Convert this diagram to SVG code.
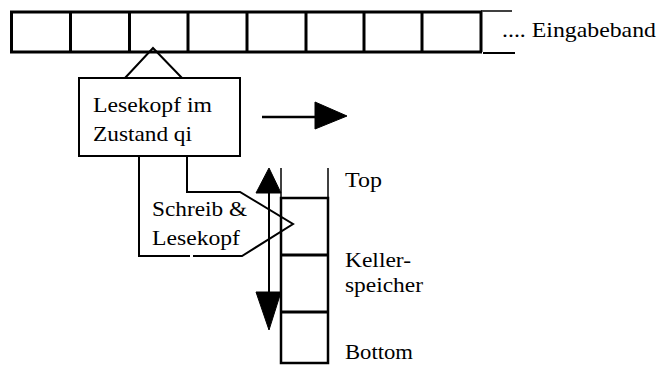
<svg xmlns="http://www.w3.org/2000/svg" width="659" height="365" viewBox="0 0 659 365">
  <style>
    .ln { fill: none; stroke: #000; stroke-linecap: butt; stroke-linejoin: miter; }
    .head { fill: #000; stroke: #000; stroke-width: 1; stroke-linejoin: round; }
    text { font-family: 'Liberation Serif', 'Times New Roman', Times, 'DejaVu Serif', serif; font-size: 22px; fill: #000; }
  </style>
  <rect x="0" y="0" width="659" height="365" fill="#fff"/>

  <!-- input tape -->
  <g id="tape">
    <line class="ln" x1="10" y1="12" x2="482" y2="12" stroke-width="3"/>
    <line class="ln" x1="10" y1="52" x2="482" y2="52" stroke-width="3"/>
    <g class="ln" stroke-width="3">
      <line x1="11.5" y1="12" x2="11.5" y2="52"/>
      <line x1="70.5" y1="12" x2="70.5" y2="52"/>
      <line x1="129.5" y1="12" x2="129.5" y2="52"/>
      <line x1="188" y1="12" x2="188" y2="52"/>
      <line x1="247" y1="12" x2="247" y2="52"/>
      <line x1="306" y1="12" x2="306" y2="52"/>
      <line x1="364" y1="12" x2="364" y2="52"/>
      <line x1="422" y1="12" x2="422" y2="52"/>
      <line x1="481" y1="12" x2="481" y2="52"/>
    </g>
    <line class="ln" x1="481" y1="11" x2="512" y2="11" stroke-width="1.5"/>
    <line class="ln" x1="483" y1="53" x2="515" y2="53" stroke-width="2"/>
    <text x="502" y="37" textLength="154" lengthAdjust="spacingAndGlyphs">.... Eingabeband</text>
  </g>

  <!-- read head on the tape -->
  <g id="lesekopf">
    <rect class="ln" x="79" y="78" width="161" height="78" stroke-width="2"/>
    <text x="93" y="112" textLength="119" lengthAdjust="spacingAndGlyphs">Lesekopf im</text>
    <text x="93" y="141" textLength="99" lengthAdjust="spacingAndGlyphs">Zustand qi</text>
  </g>

  <!-- read/write head on the stack -->
  <g id="schreibkopf">
    <text x="152" y="216" textLength="95" lengthAdjust="spacingAndGlyphs">Schreib &amp;</text>
    <text x="152" y="245" textLength="88" lengthAdjust="spacingAndGlyphs">Lesekopf</text>
  </g>

  <!-- pushdown stack -->
  <g id="keller">
    <line class="ln" x1="281" y1="168" x2="281" y2="198" stroke-width="1.5"/>
    <line class="ln" x1="328" y1="168" x2="328" y2="198" stroke-width="1.5"/>
    <rect class="ln" x="281" y="198" width="47" height="165" stroke-width="2.5"/>
    <line class="ln" x1="281" y1="255" x2="328" y2="255" stroke-width="3"/>
    <line class="ln" x1="281" y1="312" x2="328" y2="312" stroke-width="3"/>
    <text x="345" y="187" textLength="37" lengthAdjust="spacingAndGlyphs">Top</text>
    <text x="345" y="267" textLength="66" lengthAdjust="spacingAndGlyphs">Keller-</text>
    <text x="345" y="292" textLength="78" lengthAdjust="spacingAndGlyphs">speicher</text>
    <text x="345" y="359" textLength="68" lengthAdjust="spacingAndGlyphs">Bottom</text>
  </g>

  <!-- connectors -->
  <g id="connectors">
    <!-- pointer from the head box to the tape cell -->
    <polyline class="ln" points="125,78 153,48 182,78" stroke-width="2"/>
    <!-- direction of motion -->
    <line class="ln" x1="262" y1="117" x2="317" y2="117" stroke-width="2.5"/>
    <polygon class="head" points="315,102 347,116 315,129"/>
    <!-- outline of the stack head -->
    <polyline class="ln" points="139,156 139,256 190,256" stroke-width="2"/>
    <polyline class="ln" points="193,256 242,256 293,224 240,192 187,192 187,156" stroke-width="2"/>
    <!-- push/pop double arrow -->
    <line class="ln" x1="269" y1="190" x2="269" y2="295" stroke-width="2"/>
    <polygon class="head" points="269,168 256,193 281,193"/>
    <polygon class="head" points="256,292 281,292 269,330"/>
  </g>
</svg>
